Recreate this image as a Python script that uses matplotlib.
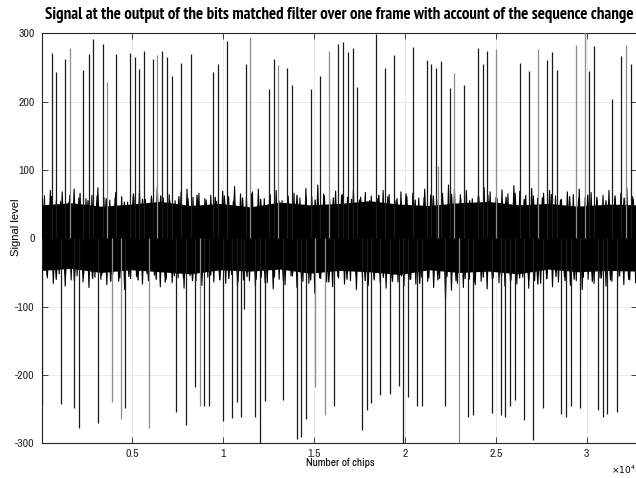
import numpy as np
import matplotlib
matplotlib.use('Agg')
import matplotlib.pyplot as plt
from matplotlib import font_manager

plt.rcParams['axes.unicode_minus'] = False
fonts = font_manager.fontManager.ttflist
avail = {f.name for f in fonts}


def wnum(w):
    return w if isinstance(w, int) else font_manager.weight_dict.get(w, 400)


bold_avail = {f.name for f in fonts if wnum(f.weight) >= 600}
narrow_prefs = ['Arial Narrow', 'Liberation Sans Narrow', 'Archivo Narrow', 'PT Sans Narrow',
                'Roboto Condensed', 'Pragati Narrow', 'Fira Sans Condensed',
                'IBM Plex Sans Condensed', 'Encode Sans Condensed', 'Asap Condensed',
                'Barlow Semi Condensed', 'Sofia Sans Condensed', 'Fira Sans Extra Condensed']
narrow = [p for p in narrow_prefs if p in avail][:1] + ['DejaVu Sans']
narrow_bold = [p for p in narrow_prefs if p in bold_avail][:1] + narrow
regular = [p for p in ['Arimo', 'Liberation Sans', 'Arial'] if p in avail][:1] + ['DejaVu Sans']

# tall correlation peaks (chip index, level)
pos_x = [560, 813, 1291, 1566, 2297, 2593, 2848, 3361, 3617, 4112, 4881, 5137, 5376,
         5650, 6145, 6383, 6658, 6914, 7170, 7701, 8214, 9441, 9716, 10229, 11236,
         11474, 12518, 12793, 13031, 13526, 13782, 14844, 15339, 15834, 16328, 16583,
         16857, 17132, 17374, 18396, 18890, 19407, 20429, 21198, 21456, 21714, 21824,
         21967, 22484, 22720, 23231, 24022, 24275, 24533, 25011, 26330, 26802, 27335,
         27830, 28088, 28363, 29385, 29901, 30121, 30396, 31418, 31896, 32154, 32429]
pos_y = [271, 244, 262, 278, 246, 270, 291, 285, 229, 270, 271, 265, 248,
         274, 262, 268, 274, 266, 238, 256, 270, 244, 255, 289, 255,
         295, 218, 263, 253, 249, 224, 218, 237, 274, 285, 287,
         272, 278, 221, 299, 249, 268, 280, 261, 255, 249, 106,
         260, 220, 242, 225, 279, 255, 274, 277, 256, 245, 277,
         261, 273, 246, 283, 305, 245, 282, 204, 267, 283, 255]
neg_x = [44, 1055, 1802, 2077, 3088, 3857, 4352, 4605, 5890, 7407, 7940, 8434, 8709,
         8945, 9220, 9989, 10484, 10742, 11000, 11143, 11769, 12022, 12280, 13286,
         14038, 14297, 14549, 15066, 15577, 16071, 17626, 17885, 18143, 18637, 19165,
         19681, 19918, 20176, 20670, 20923, 22225, 22956, 23489, 23747, 24769, 25264,
         25522, 25758, 26055, 26566, 27060, 27571, 28599, 28835, 29110, 29626, 30632,
         30890, 31143, 31659]
neg_y = [-245, -243, -249, -278, -271, -240, -264, -249, -277, -254, -273, -217, -245,
         -245, -246, -267, -263, -240, -261, -104, -261, -305, -238, -237,
         -294, -291, -264, -217, -258, -246, -280, -251, -241, -229, -228,
         -216, -305, -232, -245, -245, -245, -305, -262, -258, -256, -259,
         -261, -246, -237, -266, -295, -249, -257, -262, -246, -249, -251,
         -261, -257, -254]

# noise band: outer excursions read every 327 chips
env_step = 327
upper = [62, 70, 55, 68, 52, 72, 66, 58, 63, 74, 60, 56, 67, 61, 53, 65, 70, 57, 62, 75,
         59, 64, 55, 68, 72, 60, 66, 58, 63, 54, 69, 61, 76, 65,
         60, 68, 72, 58, 64, 70, 55, 62, 66, 59, 73, 61, 78, 65, 57, 69, 63, 60, 71, 56,
         67, 62, 58, 70, 64, 55, 68, 61, 66, 59, 72, 63, 57,
         66, 78, 72, 64, 70, 58, 62, 74, 68, 60, 71, 65, 77, 69, 63, 73, 59, 66, 70, 62,
         57, 68, 64, 72, 60, 67, 55, 63, 70, 58, 66, 74, 61]
lower = [-58, -66, -52, -70, -61, -55, -64, -72, -57, -60, -68, -53, -63, -75, -59, -56,
         -67, -62, -54, -71, -60, -65, -58, -73, -55, -62, -69, -57, -64, -60, -66, -53,
         -70, -61,
         -62, -70, -57, -65, -74, -60, -68, -55, -72, -63, -66, -80, -59, -64, -71, -58,
         -67, -62, -75, -56, -69, -61, -65, -73, -58, -64, -70, -60, -67, -57, -63, -72, -59,
         -88, -76, -66, -72, -60, -68, -63, -74, -58, -65, -70, -61, -67, -57, -73, -62,
         -66, -59, -71, -64, -56, -69, -62, -75, -60, -66, -58, -70, -63, -57, -68, -61, -65]
# inner excursions, read every 500 chips
in_step = 500
upper_in = [57, 61, 54, 63, 59, 55, 62, 58, 60, 53, 64, 57, 59, 62, 55, 61, 58, 63, 56, 60,
            62, 54, 59, 65, 57, 61, 55, 60, 63, 58, 56, 62, 59, 64, 57, 60, 55, 63, 61, 58,
            65, 56, 60, 62, 57, 64, 59, 55, 61, 63, 58, 60, 66, 57, 62, 59, 64, 56, 61, 58,
            63, 60, 55, 62, 59, 57]
lower_in = [-55, -60, -53, -62, -57, -59, -54, -63, -58, -56, -61, -52, -60, -64, -55, -58,
            -62, -57, -54, -61, -59, -63, -56, -60, -65, -57, -62, -55, -59, -61, -58, -64,
            -56, -60, -53, -62, -59, -57, -63, -55, -60, -66, -58, -61, -56, -62, -59, -64,
            -57, -60, -55, -63, -58, -61, -67, -59, -56, -62, -60, -57, -63, -58, -61, -55,
            -60, -59]
# dense core of the band, read every 1640 chips
core_step = 1640
core_top = [49, 52, 47, 50, 54, 48, 51, 46, 53, 49, 51, 55, 50, 48, 52, 54, 49, 51, 47, 50, 49]
core_bot = [-47, -44, -50, -46, -49, -52, -46, -48, -45, -51, -47, -49, -53, -46, -50, -48,
            -52, -45, -49, -47, -48]

gray_pos = [3, 8, 15, 25, 28, 33, 46, 49, 54, 57, 61, 62, 67]
gray_neg = [5, 6, 8, 12, 27, 28, 41]

fig = plt.figure(figsize=(6.36, 4.78), dpi=100)
ax = fig.add_axes([41.5 / 636, 1 - 443.3 / 478, 595.5 / 636, 410 / 478])

env_x = 160 + env_step * np.arange(len(upper))
zx = np.ravel(np.column_stack([env_x, env_x + env_step / 2]))
zy = np.ravel(np.column_stack([upper, lower]))
ax.plot(zx, zy, color='black', lw=0.8, zorder=3)

in_x = 60 + in_step * np.arange(len(upper_in))
ix = np.ravel(np.column_stack([in_x, in_x + in_step / 2]))
iy = np.ravel(np.column_stack([upper_in, lower_in]))
ax.plot(ix, iy, color='black', lw=0.9, zorder=3)

core_x = core_step * np.arange(len(core_top))
ax.fill_between(core_x, core_bot, core_top, color='black', lw=0, zorder=3.5)

pc = ['#8c8c8c' if i in gray_pos else '#1a1a1a' for i in range(len(pos_x))]
nc = ['#8c8c8c' if i in gray_neg else '#1a1a1a' for i in range(len(neg_x))]
ax.vlines(pos_x, 0, pos_y, colors=pc, lw=0.9, zorder=4)
ax.vlines(neg_x, 0, neg_y, colors=nc, lw=0.9, zorder=4)

ax.set_xlim(0, 32768)
ax.set_ylim(-300, 300)
xt = [5000, 10000, 15000, 20000, 25000, 30000]
ax.set_xticks(xt)
ax.set_xticklabels(['0.5', '1', '1.5', '2', '2.5', '3'], family=narrow)
yt = [-300, -200, -100, 0, 100, 200, 300]
ax.set_yticks(yt)
ax.set_yticklabels([str(v) for v in yt], family=narrow)
ax.tick_params(direction='in', length=4, width=0.6, top=True, right=True,
               labelsize=8.5, colors='#262626')
ax.tick_params(axis='x', pad=4)
ax.tick_params(axis='y', pad=5)
ax.grid(True, color='#e6e6e6', lw=0.6)
ax.set_axisbelow(True)
for s in ax.spines.values():
    s.set_color('#262626')
    s.set_linewidth(0.8)

title = fig.text(339.5 / 636, 1 - 15 / 478, 'Signal at the output of the bits matched filter '
                 'over one frame with account of the sequence change', ha='center',
                 va='center', fontsize=11, fontweight='bold', family=narrow_bold)
xlab = fig.text(340 / 636, 1 - 463 / 478, 'Number of chips', family=narrow, fontsize=8.5,
                ha='center', va='center')
ylab = fig.text(16 / 636, 1 - 227 / 478, 'Signal level', family=regular, fontsize=10,
                rotation=90, ha='center', va='center')
fig.text(611 / 636, 1 - 470 / 478, r'$\times10^4$', fontsize=6.5, ha='left', va='center')

# fit text sizes to the widths seen in the reference
fig.canvas.draw()
r = fig.canvas.get_renderer()
for t, target, use_h in [(title, 589, False), (xlab, 70, False), (ylab, 58, True)]:
    bb = t.get_window_extent(r)
    cur = bb.height if use_h else bb.width
    t.set_fontsize(t.get_fontsize() * target / cur)

fig.savefig('out.png', dpi=100)
